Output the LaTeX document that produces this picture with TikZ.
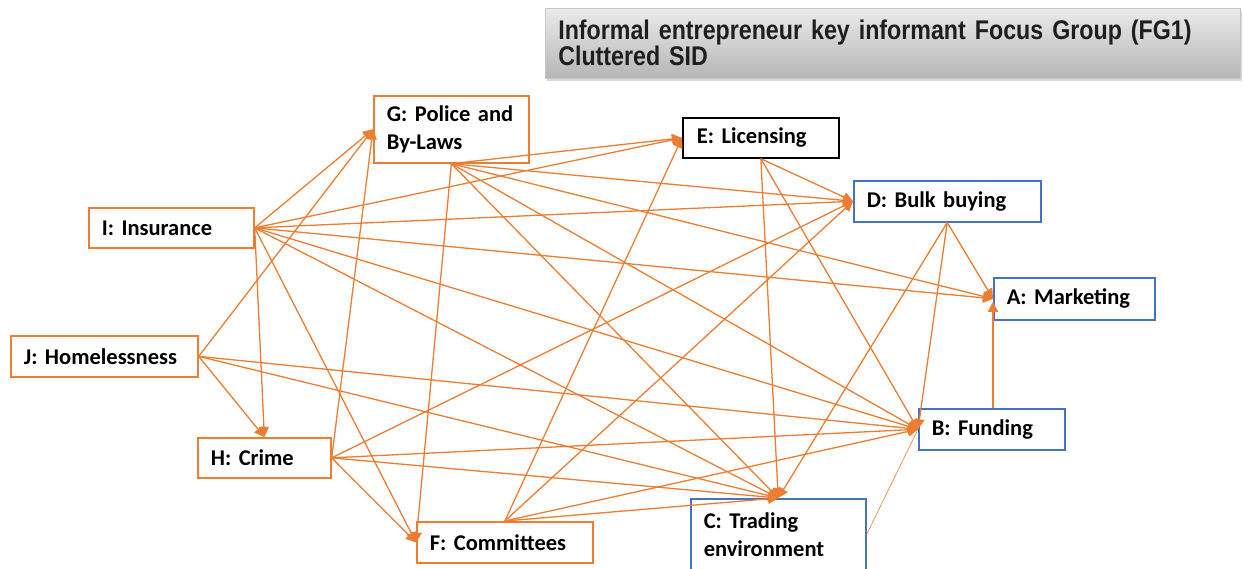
\documentclass[tikz,border=0pt]{standalone}
\usepackage{fontspec}
\usetikzlibrary{arrows.meta,calc,shadows}
\newfontfamily\boxfont{Carlito}
\newfontfamily\headfont[FakeStretch=0.86]{Liberation Sans}
\definecolor{linkorange}{HTML}{ED7D31}
\definecolor{boxblue}{HTML}{4472C4}
\definecolor{headtext}{HTML}{1E1E1E}
\frenchspacing
\begin{document}
\begin{tikzpicture}[x=1pt,y=-1pt,
  factor/.style={rectangle, draw, fill=white, anchor=north west, inner xsep=13pt,
    inner ysep=0pt, align=left, text=black,
    font=\boxfont\bfseries\fontsize{22.5}{28}\selectfont},
  orangebox/.style={factor, draw=linkorange, line width=1.7pt},
  bluebox/.style={factor, draw=boxblue, line width=1.5pt},
  blackbox/.style={factor, draw=black, line width=1.7pt},
  titlebox/.style={rectangle, anchor=north west, inner xsep=13pt, inner ysep=0pt,
    align=left, text=headtext, top color=gray!16, middle color=gray!32,
    bottom color=gray!58, draw=gray!45, line width=0.6pt,
    drop shadow={opacity=0.3, shadow xshift=2pt, shadow yshift=-3pt},
    font=\headfont\bfseries\fontsize{27}{26}\selectfont},
  link/.style={draw=linkorange, line width=1.3pt, -{Triangle[length=10pt,width=10pt]}},
  thinlink/.style={draw=linkorange, line width=0.6pt}
]
\useasboundingbox (0,0) rectangle (1243,568);

% heading
\node[titlebox, minimum width=695pt, minimum height=70pt, text width=669pt] (title) at (545,8)
  {Informal entrepreneur key informant Focus Group (FG1)\\Cluttered SID};

% factors
\node[orangebox, minimum width=155pt, minimum height=67pt, text width=129pt] (G) at (373,95) {G: Police and\\By-Laws};
\node[blackbox,  minimum width=156pt, minimum height=40pt, text width=128pt, inner xsep=14pt] (E) at (682,117) {E: Licensing};
\node[bluebox,   minimum width=187pt, minimum height=41pt, text width=161pt] (D) at (853,180) {D: Bulk buying};
\node[bluebox,   minimum width=161pt, minimum height=42pt, text width=135pt] (A) at (993,277) {A: Marketing};
\node[orangebox, minimum width=165pt, minimum height=40pt, text width=139pt] (I) at (88,207) {I: Insurance};
\node[orangebox, minimum width=187pt, minimum height=41pt, text width=161pt] (J) at (10,335) {J: Homelessness};
\node[bluebox,   minimum width=146pt, minimum height=41pt, text width=120pt] (B) at (918,408) {B: Funding};
\node[orangebox, minimum width=133pt, minimum height=40pt, text width=107pt] (H) at (197,437) {H: Crime};
\node[orangebox, minimum width=176pt, minimum height=41pt, text width=150pt] (F) at (416,521) {F: Committees};
\node[bluebox,   minimum width=175pt, minimum height=72pt, text width=149pt] (C) at (690,498) {C: Trading\\environment};

% influences
\foreach \s/\t in {
  I.east/G.west, I.east/E.west, I.east/D.west, I.east/A.west, I.east/B.west,
  I.east/C.north, I.east/H.north, I.east/F.west,
  J.east/G.west, J.east/H.north, J.east/B.west, J.east/C.north,
  G.south/E.west, G.south/D.west, G.south/A.west, G.south/B.west,
  G.south/C.north, G.south/F.west,
  H.east/G.west, H.east/D.west, H.east/B.west, H.east/C.north, H.east/F.west,
  E.south/D.west, E.south/B.west, E.south/C.north,
  F.north/E.west, F.north/D.west, F.north/B.west, F.north/C.north,
  D.south/A.west, D.south/B.west, D.south/C.north}
  \draw[link] (\s) -- (\t);

\draw[link] (A.west |- B.north) -- ($(A.west)+(0,3)$);
\draw[thinlink] (C.east) -- (B.west);
\end{tikzpicture}
\end{document}
